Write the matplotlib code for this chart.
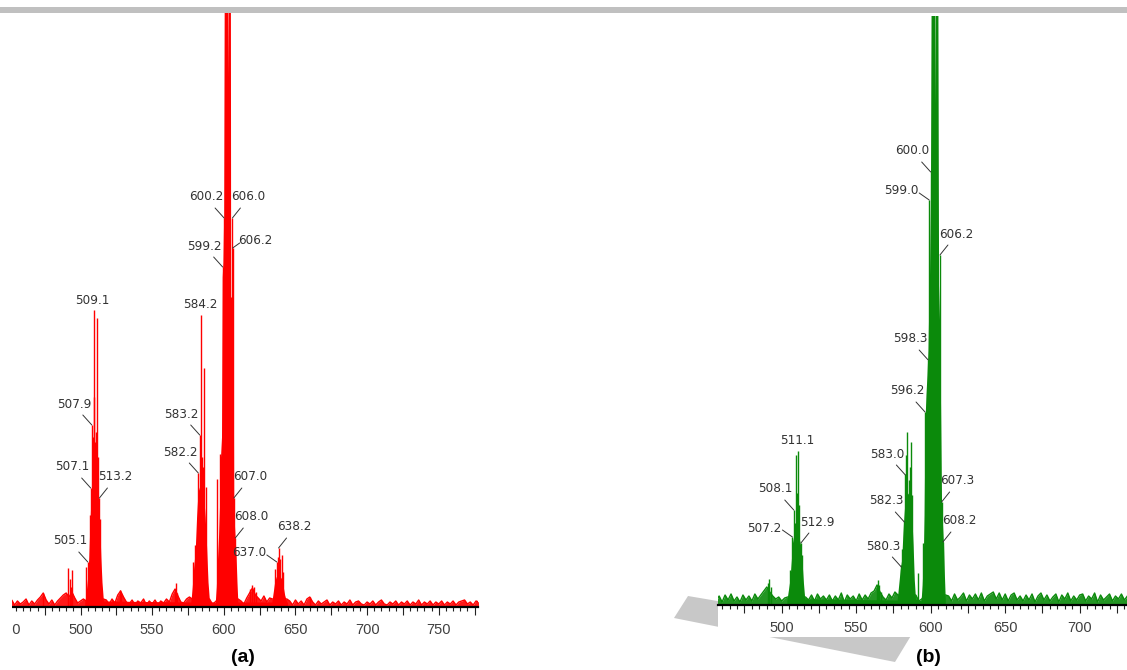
import numpy as np
import matplotlib
matplotlib.use("Agg")
import matplotlib.pyplot as plt
from matplotlib import font_manager
from matplotlib.patches import Rectangle, Polygon
from matplotlib.ticker import MultipleLocator, FuncFormatter

W, H = 1127, 670

# ---------------- panel (a), red spectrum ----------------
# baseline noise, sampled every 2 m/z from 444
noise_a_int = [3, 6, 2, 5, 7, 2, 6, 3, 5, 8, 2, 6, 3, 7,
               10, 14, 7, 3, 7, 2, 6, 9, 12,
               14, 10, 15, 9, 4, 6, 8,
               6, 6, 6, 6, 6, 6, 8,
               7, 3, 8, 4,
               12, 16, 10, 5,
               3, 7, 2, 6, 4, 8, 2, 6, 3, 7, 2, 6, 4, 8, 5,
               13, 18, 11, 5,
               4, 8, 10,
               8, 8, 8, 8, 8, 8, 8,
               3, 5,
               8, 8, 8, 8, 8, 8, 8, 8,
               6, 3, 9,
               14, 19, 12, 9,
               6, 11, 5, 9,
               8, 8, 8, 8, 8, 8,
               6, 2, 7, 3, 6, 2, 8, 10,
               5, 2, 6, 3, 5, 7, 2, 5, 3, 6, 2, 5, 3, 7, 2, 5, 6, 3, 2, 5,
               3, 6, 2, 5, 7, 3, 2, 5, 3, 6, 2, 5, 3, 6, 2, 5, 3, 7, 2, 5,
               3, 6, 2, 5, 3, 6, 2, 5, 3, 6, 2, 5, 6, 7, 3, 5, 2, 6, 5]
noise_a_mz = np.arange(444, 444 + 2 * len(noise_a_int), 2)

# solid body of the isotope clusters
env_a_mz = [503.0, 504.0, 505.0, 505.8, 506.5, 507.2, 508.0, 509.0, 510.0, 511.0, 512.0, 512.8, 513.5, 514.2, 515.0, 516.0,
            577.0, 578.0, 579.0, 580.0, 581.0, 582.0, 583.0, 584.0, 585.0, 586.0, 587.0, 588.0, 589.0, 590.0,
            594.0, 594.8, 595.5, 596.3, 597.0, 597.7, 598.4, 598.9, 599.4, 599.9, 600.3, 602.6, 602.8, 603.0,
            604.6, 604.8, 606.5, 606.9, 607.5, 608.0, 608.6, 609.2, 609.8,
            633.5, 634.5, 635.5, 636.5, 637.5, 638.5, 639.5, 640.5, 641.5, 642.5, 643.5, 644.5]
env_a_int = [4, 15, 30, 50, 80, 105, 115, 120, 118, 115, 108, 100, 80, 50, 25, 6,
             5, 20, 40, 55, 90, 115, 120, 122, 118, 110, 90, 60, 25, 6,
             4, 20, 45, 70, 100, 150, 170, 330, 345, 390, 620, 620, 530, 620,
             620, 310, 310, 105, 80, 67, 50, 25, 5,
             5, 15, 25, 30, 32, 32, 30, 28, 20, 12, 7, 4]

# single peaks
stick_a_mz = [473.5, 491.6, 492.4, 493.4, 494.4, 503.5, 505.1, 506.4, 507.1, 507.9, 508.5, 509.1, 509.7,
              510.4, 511.0, 511.6, 512.3, 513.2, 513.9, 527.6, 528.6, 565.6, 566.3, 567.0,
              578.5, 579.6, 582.2, 583.2, 584.2, 585.0, 585.8, 586.3, 587.3,
              595.3, 597.6, 599.2, 600.2, 606.0, 606.2, 607.0, 608.0,
              618.6, 620.0, 621.4, 622.4, 636.0, 637.0, 637.6, 638.2, 639.0, 640.3, 641.0, 660.0]
stick_a_int = [14, 39, 28, 20, 37, 40, 45, 92, 119, 182, 170, 297, 210,
               165, 175, 289, 150, 109, 88, 17, 13, 18, 24, 14,
               45, 62, 134, 172, 292, 150, 140, 239, 120,
               128, 153, 340, 389, 389, 359, 109, 69,
               18, 22, 20, 15, 38, 45, 50, 59, 48, 52, 35, 10]

label_a_mz = [505.1, 507.1, 507.9, 509.1, 513.2, 582.2, 583.2, 584.2,
              599.2, 600.2, 606.0, 606.2, 607.0, 608.0, 637.0, 638.2]
label_a_int = [45, 119, 182, 297, 109, 134, 172, 292,
               340, 389, 389, 359, 109, 69, 45, 59]
label_a_side = ['L', 'L', 'L', 'T', 'R', 'L', 'L', 'T',
                'L', 'L', 'R', 'SR', 'R', 'R', 'SL', 'R']

# ---------------- panel (b), green spectrum ----------------
noise_b_int = [4, 9, 3, 10, 5, 11, 4, 8, 3, 10, 5, 9, 4, 11, 6,
               10, 14, 18, 13, 9, 6, 8, 4, 7,
               8, 8, 8, 8, 8, 8, 8,
               5, 10, 4, 11, 6, 9, 5,
               10, 4, 9, 5, 12, 3, 10, 6, 9, 4, 11, 5, 10, 6, 12,
               14, 20, 13, 8,
               5, 11, 7, 13,
               10, 10, 10, 10, 10, 10, 10,
               4, 6,
               10, 10, 10, 10, 10, 10, 10, 10,
               9, 4, 11, 5, 8, 12, 4, 10, 6, 11, 5, 12, 4, 9, 11,
               13, 6, 12, 5, 11, 4, 10, 12, 5, 9,
               4, 10, 5, 11, 3, 9, 12, 5, 10, 4, 8, 11, 3, 10, 6, 12, 4, 9, 5, 10,
               11, 4, 9, 6, 12, 3, 10, 5, 8, 11, 4, 9, 6, 11, 5, 9]
noise_b_mz = np.arange(456, 456 + 2 * len(noise_b_int), 2)

env_b_mz = [503.5, 504.5, 505.5, 506.5, 507.2, 508.0, 509.0, 510.0, 511.0, 512.0, 512.9, 513.8, 514.6, 515.5,
            577.5, 578.5, 579.5, 580.5, 581.3, 582.0, 582.8, 583.6, 584.5, 585.5, 586.5, 587.3, 588.2, 589.0, 589.8,
            593.5, 594.3, 595.0, 595.6, 596.2, 596.8, 597.5, 598.2, 598.6, 599.2, 599.8, 600.3, 602.6, 602.8,
            603.0, 604.8, 605.3, 606.0, 606.6, 607.3, 608.0, 608.6, 609.2, 609.8]
env_b_int = [5, 15, 25, 45, 62, 68, 72, 70, 68, 65, 58, 40, 22, 6,
             5, 20, 35, 45, 70, 88, 105, 110, 112, 110, 105, 90, 60, 25, 6,
             4, 20, 45, 90, 185, 210, 230, 255, 290, 330, 400, 620, 620, 500,
             620, 620, 320, 280, 200, 100, 78, 60, 30, 5]

stick_b_mz = [490.6, 491.6, 493.0, 505.8, 507.2, 508.1, 508.8, 509.3, 510.2, 511.1, 511.8, 512.9, 513.6,
              563.8, 564.6, 565.6, 566.6, 580.3, 581.0, 582.3, 583.0, 583.5, 584.1, 585.2, 586.0, 586.8, 587.5,
              591.8, 594.8, 596.2, 598.3, 599.0, 600.0, 606.2, 607.3, 608.2]
stick_b_int = [22, 26, 18, 35, 68, 95, 82, 150, 112, 154, 100, 62, 50,
               18, 25, 20, 13, 40, 56, 84, 131, 150, 173, 125, 138, 163, 110,
               32, 62, 193, 245, 405, 433, 350, 103, 63]

label_b_mz = [507.2, 508.1, 511.1, 512.9, 580.3, 582.3, 583.0,
              596.2, 598.3, 599.0, 600.0, 606.2, 607.3, 608.2]
label_b_int = [68, 95, 154, 62, 38, 83, 130,
               193, 245, 405, 433, 350, 103, 63]
label_b_side = ['SL', 'L', 'T', 'R', 'L', 'L', 'L',
                'L', 'L', 'SL', 'L', 'R', 'R', 'R']

# ---------------- styling ----------------
plt.rcParams['font.family'] = ['Liberation Sans', 'DejaVu Sans']

# peak labels in the original are a narrow face; use one if installed
PEAK_FONT, PEAK_SIZE, PEAK_STRETCH = ['Liberation Sans', 'DejaVu Sans'], 9.5, 'normal'
for f in font_manager.fontManager.ttflist:
    if f.style != 'normal' or f.weight not in (400, 'normal', 'regular'):
        continue
    if 'Narrow' in f.name or 'Condensed' in f.name or f.stretch in ('condensed', 'semi-condensed'):
        PEAK_FONT, PEAK_SIZE, PEAK_STRETCH = [f.name, 'Liberation Sans'], 9.6, f.stretch
        break

RED = '#ff0000'
GREEN = '#0b8a0b'
TXT = '#333333'

# leader end / text centre offsets in pixels for each label placement
OFFS = {'L': ((-9, 10), (-18, 21)),
        'R': ((8, 10), (16, 21)),
        'T': (None, (-1, 10)),
        'SL': ((-10, 7), (-28, 9)),
        'SR': ((7, 5), (23, 8))}


def fx(x):
    return x / W


def fy(y):
    return 1 - y / H


def make_axes(fig, x0, x1, ybase, ytop_px, xlo, xhi):
    ax = fig.add_axes([fx(x0), fy(ybase), fx(x1) - fx(x0), fy(ytop_px) - fy(ybase)])
    ax.set_zorder(3)
    ax.patch.set_visible(False)
    ax.set_xlim(xlo, xhi)
    ax.set_ylim(0, ybase - ytop_px)
    for s in ['left', 'right', 'top']:
        ax.spines[s].set_visible(False)
    ax.spines['bottom'].set_linewidth(1.6)
    ax.yaxis.set_visible(False)
    ax.xaxis.set_major_locator(MultipleLocator(25))
    ax.xaxis.set_minor_locator(MultipleLocator(5))
    ax.xaxis.set_major_formatter(FuncFormatter(lambda v, p: f"{v:.0f}" if v % 50 == 0 else ""))
    ax.tick_params(which='major', length=5.8, width=0.8, pad=5.5, labelsize=10.5,
                   labelcolor='#404040', color='#222222')
    ax.tick_params(which='minor', length=3, width=0.8, color='#222222')
    return ax


def draw_spectrum(ax, color, nmz, nint, emz, eint, smz, sint):
    ax.fill_between(nmz, 0, nint, color=color, lw=0, alpha=0.9)
    ax.fill_between(emz, 0, eint, color=color, lw=0)
    ax.plot(nmz, nint, color=color, lw=1.0)
    ax.vlines(smz, 0, sint, color=color, lw=1.0)


def draw_labels(ax, mzs, ints, sides):
    for m, v, s in zip(mzs, ints, sides):
        lead, txt = OFFS[s]
        if lead is not None:
            ax.annotate('', xy=(m, v), xytext=lead, textcoords='offset pixels',
                        arrowprops=dict(arrowstyle='-', color=TXT, lw=0.7,
                                        shrinkA=0, shrinkB=0))
        ax.annotate(f"{m:.1f}", xy=(m, v), xytext=txt, textcoords='offset pixels',
                    ha='center', va='center', color=TXT,
                    family=PEAK_FONT, fontsize=PEAK_SIZE, fontstretch=PEAK_STRETCH)


fig = plt.figure(figsize=(W / 100, H / 100), dpi=100)

# grey sheet shadow behind panel (b) and the white panel itself
fig.add_artist(Polygon([(fx(688), fy(596)), (fx(912), fy(634)), (fx(895), fy(662)), (fx(674), fy(618))],
                       closed=True, transform=fig.transFigure, color='#c8c8c8', lw=0, zorder=1))
fig.add_artist(Rectangle((fx(718), fy(637)), 1 - fx(718), fy(13) - fy(637),
                         transform=fig.transFigure, color='white', lw=0, zorder=2))

# panel (a): 500 at x=80.5 px, 1.433 px per m/z
ax_a = make_axes(fig, 0, 478, 607, 12, 500 - 80.5 / 1.433, 500 + 397.5 / 1.433)
draw_spectrum(ax_a, RED, noise_a_mz, noise_a_int, env_a_mz, env_a_int, stick_a_mz, stick_a_int)
draw_labels(ax_a, label_a_mz, label_a_int, label_a_side)

# panel (b): 500 at x=781.7 px, 1.49 px per m/z
ax_b = make_axes(fig, 718, 1127, 605, 16, 500 - 63.7 / 1.49, 500 + 345.3 / 1.49)
draw_spectrum(ax_b, GREEN, noise_b_mz, noise_b_int, env_b_mz, env_b_int, stick_b_mz, stick_b_int)
draw_labels(ax_b, label_b_mz, label_b_int, label_b_side)

# left crop edge of panel (a) and the grey rule at the top
fig.add_artist(Rectangle((0, 0), fx(12), fy(12.5), transform=fig.transFigure,
                         color='white', lw=0, zorder=4))
fig.add_artist(Rectangle((0, fy(12.5)), 1, (12.5 - 7) / H, transform=fig.transFigure,
                         color='#c0c0c0', lw=0, zorder=5))

fig.text(fx(243), fy(658), '(a)', ha='center', va='center', fontsize=14, fontweight='bold', zorder=6)
fig.text(fx(928), fy(658), '(b)', ha='center', va='center', fontsize=14, fontweight='bold', zorder=6)

fig.savefig('out.png', dpi=100, facecolor='white')
